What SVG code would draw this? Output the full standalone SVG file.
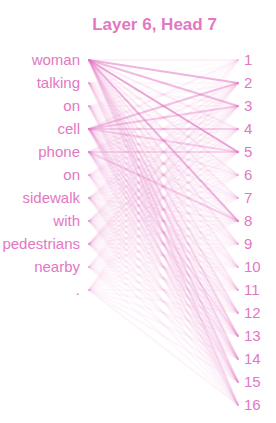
<svg xmlns="http://www.w3.org/2000/svg" width="276" height="423" viewBox="0 0 276 423">
<style>
text{font-family:"Liberation Sans",Arial,sans-serif;fill:#e377c2}
.t{font-size:17px;font-weight:bold;text-anchor:middle}
.l{font-size:15px;text-anchor:end}
.r{font-size:15px;text-anchor:start}
#connectors line{stroke:#e377c2;stroke-width:2;stroke-linecap:round}
</style>
<rect width="276" height="423" fill="#fff"/>
<text class="t" x="154.5" y="30">Layer 6, Head 7</text>
<g id="connectors">
<g id="from-woman">
<line x1="89" y1="60" x2="238" y2="60" stroke-opacity=".1"/>
<line x1="89" y1="60" x2="238" y2="83" stroke-opacity=".55"/>
<line x1="89" y1="60" x2="238" y2="106" stroke-opacity=".5"/>
<line x1="89" y1="60" x2="238" y2="129" stroke-opacity=".12"/>
<line x1="89" y1="60" x2="238" y2="152" stroke-opacity=".7"/>
<line x1="89" y1="60" x2="238" y2="175" stroke-opacity=".15"/>
<line x1="89" y1="60" x2="238" y2="198" stroke-opacity=".12"/>
<line x1="89" y1="60" x2="238" y2="221" stroke-opacity=".55"/>
<line x1="89" y1="60" x2="238" y2="244" stroke-opacity=".15"/>
<line x1="89" y1="60" x2="238" y2="267" stroke-opacity=".12"/>
<line x1="89" y1="60" x2="238" y2="290" stroke-opacity=".15"/>
<line x1="89" y1="60" x2="238" y2="313" stroke-opacity=".2"/>
<line x1="89" y1="60" x2="238" y2="336" stroke-opacity=".28"/>
<line x1="89" y1="60" x2="238" y2="359" stroke-opacity=".25"/>
<line x1="89" y1="60" x2="238" y2="382" stroke-opacity=".25"/>
<line x1="89" y1="60" x2="238" y2="405" stroke-opacity=".2"/>
</g>
<g id="from-talking">
<line x1="89" y1="83" x2="238" y2="60" stroke-opacity=".04"/>
<line x1="89" y1="83" x2="238" y2="83" stroke-opacity=".05"/>
<line x1="89" y1="83" x2="238" y2="106" stroke-opacity=".06"/>
<line x1="89" y1="83" x2="238" y2="129" stroke-opacity=".05"/>
<line x1="89" y1="83" x2="238" y2="152" stroke-opacity=".06"/>
<line x1="89" y1="83" x2="238" y2="175" stroke-opacity=".05"/>
<line x1="89" y1="83" x2="238" y2="198" stroke-opacity=".06"/>
<line x1="89" y1="83" x2="238" y2="221" stroke-opacity=".08"/>
<line x1="89" y1="83" x2="238" y2="244" stroke-opacity=".06"/>
<line x1="89" y1="83" x2="238" y2="267" stroke-opacity=".05"/>
<line x1="89" y1="83" x2="238" y2="290" stroke-opacity=".06"/>
<line x1="89" y1="83" x2="238" y2="313" stroke-opacity=".08"/>
<line x1="89" y1="83" x2="238" y2="336" stroke-opacity=".12"/>
<line x1="89" y1="83" x2="238" y2="359" stroke-opacity=".1"/>
<line x1="89" y1="83" x2="238" y2="382" stroke-opacity=".12"/>
<line x1="89" y1="83" x2="238" y2="405" stroke-opacity=".1"/>
</g>
<g id="from-on1">
<line x1="89" y1="106" x2="238" y2="60" stroke-opacity=".04"/>
<line x1="89" y1="106" x2="238" y2="83" stroke-opacity=".06"/>
<line x1="89" y1="106" x2="238" y2="106" stroke-opacity=".06"/>
<line x1="89" y1="106" x2="238" y2="129" stroke-opacity=".05"/>
<line x1="89" y1="106" x2="238" y2="152" stroke-opacity=".07"/>
<line x1="89" y1="106" x2="238" y2="175" stroke-opacity=".06"/>
<line x1="89" y1="106" x2="238" y2="198" stroke-opacity=".05"/>
<line x1="89" y1="106" x2="238" y2="221" stroke-opacity=".06"/>
<line x1="89" y1="106" x2="238" y2="244" stroke-opacity=".06"/>
<line x1="89" y1="106" x2="238" y2="267" stroke-opacity=".05"/>
<line x1="89" y1="106" x2="238" y2="290" stroke-opacity=".06"/>
<line x1="89" y1="106" x2="238" y2="313" stroke-opacity=".08"/>
<line x1="89" y1="106" x2="238" y2="336" stroke-opacity=".1"/>
<line x1="89" y1="106" x2="238" y2="359" stroke-opacity=".1"/>
<line x1="89" y1="106" x2="238" y2="382" stroke-opacity=".12"/>
<line x1="89" y1="106" x2="238" y2="405" stroke-opacity=".1"/>
</g>
<g id="from-cell">
<line x1="89" y1="129" x2="238" y2="60" stroke-opacity=".1"/>
<line x1="89" y1="129" x2="238" y2="83" stroke-opacity=".45"/>
<line x1="89" y1="129" x2="238" y2="106" stroke-opacity=".4"/>
<line x1="89" y1="129" x2="238" y2="129" stroke-opacity=".35"/>
<line x1="89" y1="129" x2="238" y2="152" stroke-opacity=".35"/>
<line x1="89" y1="129" x2="238" y2="175" stroke-opacity=".12"/>
<line x1="89" y1="129" x2="238" y2="198" stroke-opacity=".1"/>
<line x1="89" y1="129" x2="238" y2="221" stroke-opacity=".15"/>
<line x1="89" y1="129" x2="238" y2="244" stroke-opacity=".1"/>
<line x1="89" y1="129" x2="238" y2="267" stroke-opacity=".1"/>
<line x1="89" y1="129" x2="238" y2="290" stroke-opacity=".12"/>
<line x1="89" y1="129" x2="238" y2="313" stroke-opacity=".15"/>
<line x1="89" y1="129" x2="238" y2="336" stroke-opacity=".25"/>
<line x1="89" y1="129" x2="238" y2="359" stroke-opacity=".2"/>
<line x1="89" y1="129" x2="238" y2="382" stroke-opacity=".2"/>
<line x1="89" y1="129" x2="238" y2="405" stroke-opacity=".15"/>
</g>
<g id="from-phone">
<line x1="89" y1="152" x2="238" y2="60" stroke-opacity=".05"/>
<line x1="89" y1="152" x2="238" y2="83" stroke-opacity=".1"/>
<line x1="89" y1="152" x2="238" y2="106" stroke-opacity=".1"/>
<line x1="89" y1="152" x2="238" y2="129" stroke-opacity=".08"/>
<line x1="89" y1="152" x2="238" y2="152" stroke-opacity=".3"/>
<line x1="89" y1="152" x2="238" y2="175" stroke-opacity=".08"/>
<line x1="89" y1="152" x2="238" y2="198" stroke-opacity=".1"/>
<line x1="89" y1="152" x2="238" y2="221" stroke-opacity=".35"/>
<line x1="89" y1="152" x2="238" y2="244" stroke-opacity=".08"/>
<line x1="89" y1="152" x2="238" y2="267" stroke-opacity=".08"/>
<line x1="89" y1="152" x2="238" y2="290" stroke-opacity=".1"/>
<line x1="89" y1="152" x2="238" y2="313" stroke-opacity=".1"/>
<line x1="89" y1="152" x2="238" y2="336" stroke-opacity=".15"/>
<line x1="89" y1="152" x2="238" y2="359" stroke-opacity=".12"/>
<line x1="89" y1="152" x2="238" y2="382" stroke-opacity=".12"/>
<line x1="89" y1="152" x2="238" y2="405" stroke-opacity=".1"/>
</g>
<g id="from-on2">
<line x1="89" y1="175" x2="238" y2="60" stroke-opacity=".04"/>
<line x1="89" y1="175" x2="238" y2="83" stroke-opacity=".08"/>
<line x1="89" y1="175" x2="238" y2="106" stroke-opacity=".08"/>
<line x1="89" y1="175" x2="238" y2="129" stroke-opacity=".06"/>
<line x1="89" y1="175" x2="238" y2="152" stroke-opacity=".06"/>
<line x1="89" y1="175" x2="238" y2="175" stroke-opacity=".05"/>
<line x1="89" y1="175" x2="238" y2="198" stroke-opacity=".06"/>
<line x1="89" y1="175" x2="238" y2="221" stroke-opacity=".08"/>
<line x1="89" y1="175" x2="238" y2="244" stroke-opacity=".05"/>
<line x1="89" y1="175" x2="238" y2="267" stroke-opacity=".05"/>
<line x1="89" y1="175" x2="238" y2="290" stroke-opacity=".06"/>
<line x1="89" y1="175" x2="238" y2="313" stroke-opacity=".06"/>
<line x1="89" y1="175" x2="238" y2="336" stroke-opacity=".08"/>
<line x1="89" y1="175" x2="238" y2="359" stroke-opacity=".08"/>
<line x1="89" y1="175" x2="238" y2="382" stroke-opacity=".08"/>
<line x1="89" y1="175" x2="238" y2="405" stroke-opacity=".06"/>
</g>
<g id="from-sidewalk">
<line x1="89" y1="198" x2="238" y2="60" stroke-opacity=".04"/>
<line x1="89" y1="198" x2="238" y2="83" stroke-opacity=".1"/>
<line x1="89" y1="198" x2="238" y2="106" stroke-opacity=".1"/>
<line x1="89" y1="198" x2="238" y2="129" stroke-opacity=".08"/>
<line x1="89" y1="198" x2="238" y2="152" stroke-opacity=".08"/>
<line x1="89" y1="198" x2="238" y2="175" stroke-opacity=".06"/>
<line x1="89" y1="198" x2="238" y2="198" stroke-opacity=".06"/>
<line x1="89" y1="198" x2="238" y2="221" stroke-opacity=".1"/>
<line x1="89" y1="198" x2="238" y2="244" stroke-opacity=".06"/>
<line x1="89" y1="198" x2="238" y2="267" stroke-opacity=".05"/>
<line x1="89" y1="198" x2="238" y2="290" stroke-opacity=".06"/>
<line x1="89" y1="198" x2="238" y2="313" stroke-opacity=".07"/>
<line x1="89" y1="198" x2="238" y2="336" stroke-opacity=".1"/>
<line x1="89" y1="198" x2="238" y2="359" stroke-opacity=".08"/>
<line x1="89" y1="198" x2="238" y2="382" stroke-opacity=".1"/>
<line x1="89" y1="198" x2="238" y2="405" stroke-opacity=".08"/>
</g>
<g id="from-with">
<line x1="89" y1="221" x2="238" y2="60" stroke-opacity=".05"/>
<line x1="89" y1="221" x2="238" y2="83" stroke-opacity=".1"/>
<line x1="89" y1="221" x2="238" y2="106" stroke-opacity=".1"/>
<line x1="89" y1="221" x2="238" y2="129" stroke-opacity=".08"/>
<line x1="89" y1="221" x2="238" y2="152" stroke-opacity=".08"/>
<line x1="89" y1="221" x2="238" y2="175" stroke-opacity=".06"/>
<line x1="89" y1="221" x2="238" y2="198" stroke-opacity=".06"/>
<line x1="89" y1="221" x2="238" y2="221" stroke-opacity=".08"/>
<line x1="89" y1="221" x2="238" y2="244" stroke-opacity=".06"/>
<line x1="89" y1="221" x2="238" y2="267" stroke-opacity=".06"/>
<line x1="89" y1="221" x2="238" y2="290" stroke-opacity=".06"/>
<line x1="89" y1="221" x2="238" y2="313" stroke-opacity=".08"/>
<line x1="89" y1="221" x2="238" y2="336" stroke-opacity=".08"/>
<line x1="89" y1="221" x2="238" y2="359" stroke-opacity=".08"/>
<line x1="89" y1="221" x2="238" y2="382" stroke-opacity=".08"/>
<line x1="89" y1="221" x2="238" y2="405" stroke-opacity=".06"/>
</g>
<g id="from-pedestrians">
<line x1="89" y1="244" x2="238" y2="60" stroke-opacity=".05"/>
<line x1="89" y1="244" x2="238" y2="83" stroke-opacity=".14"/>
<line x1="89" y1="244" x2="238" y2="106" stroke-opacity=".14"/>
<line x1="89" y1="244" x2="238" y2="129" stroke-opacity=".1"/>
<line x1="89" y1="244" x2="238" y2="152" stroke-opacity=".1"/>
<line x1="89" y1="244" x2="238" y2="175" stroke-opacity=".08"/>
<line x1="89" y1="244" x2="238" y2="198" stroke-opacity=".06"/>
<line x1="89" y1="244" x2="238" y2="221" stroke-opacity=".08"/>
<line x1="89" y1="244" x2="238" y2="244" stroke-opacity=".06"/>
<line x1="89" y1="244" x2="238" y2="267" stroke-opacity=".06"/>
<line x1="89" y1="244" x2="238" y2="290" stroke-opacity=".06"/>
<line x1="89" y1="244" x2="238" y2="313" stroke-opacity=".06"/>
<line x1="89" y1="244" x2="238" y2="336" stroke-opacity=".08"/>
<line x1="89" y1="244" x2="238" y2="359" stroke-opacity=".08"/>
<line x1="89" y1="244" x2="238" y2="382" stroke-opacity=".08"/>
<line x1="89" y1="244" x2="238" y2="405" stroke-opacity=".06"/>
</g>
<g id="from-nearby">
<line x1="89" y1="267" x2="238" y2="60" stroke-opacity=".03"/>
<line x1="89" y1="267" x2="238" y2="83" stroke-opacity=".06"/>
<line x1="89" y1="267" x2="238" y2="106" stroke-opacity=".06"/>
<line x1="89" y1="267" x2="238" y2="129" stroke-opacity=".05"/>
<line x1="89" y1="267" x2="238" y2="152" stroke-opacity=".05"/>
<line x1="89" y1="267" x2="238" y2="175" stroke-opacity=".04"/>
<line x1="89" y1="267" x2="238" y2="198" stroke-opacity=".04"/>
<line x1="89" y1="267" x2="238" y2="221" stroke-opacity=".06"/>
<line x1="89" y1="267" x2="238" y2="244" stroke-opacity=".04"/>
<line x1="89" y1="267" x2="238" y2="267" stroke-opacity=".04"/>
<line x1="89" y1="267" x2="238" y2="290" stroke-opacity=".04"/>
<line x1="89" y1="267" x2="238" y2="313" stroke-opacity=".05"/>
<line x1="89" y1="267" x2="238" y2="336" stroke-opacity=".06"/>
<line x1="89" y1="267" x2="238" y2="359" stroke-opacity=".06"/>
<line x1="89" y1="267" x2="238" y2="382" stroke-opacity=".06"/>
<line x1="89" y1="267" x2="238" y2="405" stroke-opacity=".05"/>
</g>
<g id="from-period">
<line x1="89" y1="290" x2="238" y2="60" stroke-opacity=".03"/>
<line x1="89" y1="290" x2="238" y2="83" stroke-opacity=".05"/>
<line x1="89" y1="290" x2="238" y2="106" stroke-opacity=".06"/>
<line x1="89" y1="290" x2="238" y2="129" stroke-opacity=".05"/>
<line x1="89" y1="290" x2="238" y2="152" stroke-opacity=".05"/>
<line x1="89" y1="290" x2="238" y2="175" stroke-opacity=".04"/>
<line x1="89" y1="290" x2="238" y2="198" stroke-opacity=".04"/>
<line x1="89" y1="290" x2="238" y2="221" stroke-opacity=".05"/>
<line x1="89" y1="290" x2="238" y2="244" stroke-opacity=".04"/>
<line x1="89" y1="290" x2="238" y2="267" stroke-opacity=".04"/>
<line x1="89" y1="290" x2="238" y2="290" stroke-opacity=".05"/>
<line x1="89" y1="290" x2="238" y2="313" stroke-opacity=".06"/>
<line x1="89" y1="290" x2="238" y2="336" stroke-opacity=".06"/>
<line x1="89" y1="290" x2="238" y2="359" stroke-opacity=".06"/>
<line x1="89" y1="290" x2="238" y2="382" stroke-opacity=".07"/>
<line x1="89" y1="290" x2="238" y2="405" stroke-opacity=".08"/>
</g>
</g>
<g id="left-tokens">
<g id="l0"><text class="l" x="80" y="65">woman</text></g>
<g id="l1"><text class="l" x="80" y="88">talking</text></g>
<g id="l2"><text class="l" x="80" y="111">on</text></g>
<g id="l3"><text class="l" x="80" y="134">cell</text></g>
<g id="l4"><text class="l" x="80" y="157">phone</text></g>
<g id="l5"><text class="l" x="80" y="180">on</text></g>
<g id="l6"><text class="l" x="80" y="203">sidewalk</text></g>
<g id="l7"><text class="l" x="80" y="226">with</text></g>
<g id="l8"><text class="l" x="80" y="249">pedestrians</text></g>
<g id="l9"><text class="l" x="80" y="272">nearby</text></g>
<g id="l10"><text class="l" x="80" y="295">.</text></g>
</g>
<g id="right-tokens">
<g id="r1"><text class="r" x="244" y="65">1</text></g>
<g id="r2"><text class="r" x="244" y="88">2</text></g>
<g id="r3"><text class="r" x="244" y="111">3</text></g>
<g id="r4"><text class="r" x="244" y="134">4</text></g>
<g id="r5"><text class="r" x="244" y="157">5</text></g>
<g id="r6"><text class="r" x="244" y="180">6</text></g>
<g id="r7"><text class="r" x="244" y="203">7</text></g>
<g id="r8"><text class="r" x="244" y="226">8</text></g>
<g id="r9"><text class="r" x="244" y="249">9</text></g>
<g id="r10"><text class="r" x="244" y="272">10</text></g>
<g id="r11"><text class="r" x="244" y="295">11</text></g>
<g id="r12"><text class="r" x="244" y="318">12</text></g>
<g id="r13"><text class="r" x="244" y="341">13</text></g>
<g id="r14"><text class="r" x="244" y="364">14</text></g>
<g id="r15"><text class="r" x="244" y="387">15</text></g>
<g id="r16"><text class="r" x="244" y="410">16</text></g>
</g>
</svg>
